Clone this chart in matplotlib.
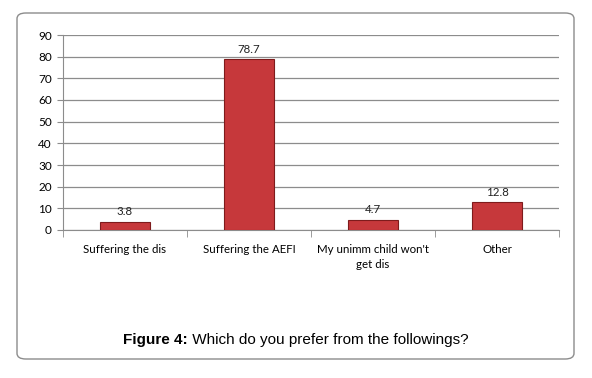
import matplotlib.pyplot as plt
from matplotlib.patches import FancyBboxPatch
import numpy as np

# data
categories = ["Suffering the dis", "Suffering the AEFI", "My unimm child won't\nget dis", "Other"]
values = [3.8, 78.7, 4.7, 12.8]
yticks = [0, 10, 20, 30, 40, 50, 60, 70, 80, 90]

W, H = 592, 378
fig = plt.figure(figsize=(W / 100, H / 100), dpi=100)

# rounded frame around the chart and caption
frame = FancyBboxPatch((17 / W, 1 - 359 / H), (574 - 17) / W, (359 - 13) / H,
                       boxstyle="round,pad=0,rounding_size=0.015",
                       transform=fig.transFigure, facecolor="white",
                       edgecolor="#8c8c8c", linewidth=1.0, zorder=-5)
fig.patches.append(frame)

ax = fig.add_axes([63 / W, 1 - 230 / H, (559 - 63) / W, (230 - 35) / H])
ax.set_facecolor("none")

x = np.arange(len(values))
ax.bar(x, values, width=0.4, color="#c6383b", edgecolor="#7e1b1c", linewidth=0.8, zorder=3)
for xi, v in zip(x, values):
    ax.text(xi, v + 2.2, str(v), ha="center", va="bottom", fontsize=8.3,
            family="Lato", color="#222222")

ax.set_xlim(-0.5, len(values) - 0.5)
ax.set_ylim(0, 90)
ax.set_yticks(yticks)
ax.yaxis.grid(True, color="#8c8c8c", linewidth=0.9, zorder=0)
ax.set_xticks(x)
ax.set_xticklabels(categories, fontsize=8.3, family="Lato", linespacing=1.5)
ax.tick_params(axis="x", length=0, pad=10)
ax.set_xticks(np.arange(-0.5, len(values)), minor=True)
ax.tick_params(axis="x", which="minor", length=5, color="#8c8c8c", direction="out")
ax.tick_params(axis="y", labelsize=8.5, length=4, color="#8c8c8c", pad=4)
for lab in ax.get_yticklabels():
    lab.set_family("Lato")
for s in ["top", "right"]:
    ax.spines[s].set_visible(False)
ax.spines["left"].set_color("#8c8c8c")
ax.spines["bottom"].set_color("#8c8c8c")

# caption
t1 = fig.text(123 / W, 1 - 344 / H, "Figure 4:", fontsize=11, fontweight="bold",
              family="Liberation Sans", va="baseline")
fig.canvas.draw()
bb = t1.get_window_extent().transformed(fig.transFigure.inverted())
fig.text(bb.x1, 1 - 344 / H, " Which do you prefer from the followings?", fontsize=11,
         family="Liberation Sans", va="baseline")

fig.savefig("out.png", dpi=100)
